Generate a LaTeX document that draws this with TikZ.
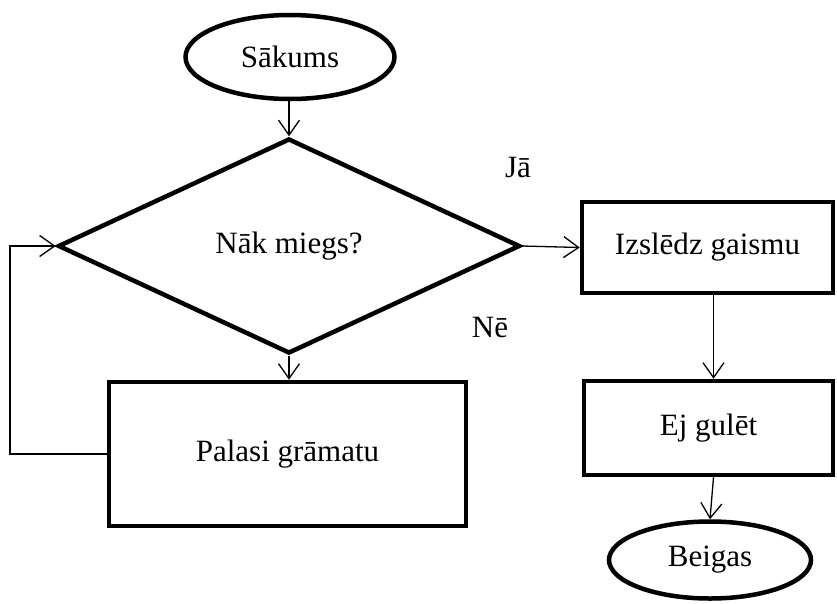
\documentclass[tikz,border=0pt]{standalone}
\usepackage{fontspec}
\setmainfont{Liberation Serif}
\usetikzlibrary{shapes.geometric,arrows.meta}
\begin{document}
\begin{tikzpicture}[x=1pt,y=-1pt,
  every node/.style={font=\fontsize{31}{37}\selectfont},
  shapeline/.style={draw,line width=4.5pt,inner sep=0pt},
  terminal/.style={shapeline,ellipse},
  process/.style={shapeline,rectangle},
  decision/.style={shapeline,diamond,miter limit=20},
  arr/.style={line width=1.3pt,-{Straight Barb[length=15pt,width=21pt,line width=1.3pt]}},
  link/.style={line width=1.3pt}]
\useasboundingbox (0,0) rectangle (837,603);

% blocks
\node[terminal,minimum width=209pt,minimum height=84pt] (start) at (290,57) {Sākums};
\node[decision,minimum width=462pt,minimum height=215pt] (dec) at (289,246) {Nāk miegs?};
\node[process,minimum width=357pt,minimum height=144pt] (read) at (287.5,454) {Palasi grāmatu};
\node[process,minimum width=251pt,minimum height=91pt] (light) at (707.5,247.5) {Izslēdz gaismu};
\node[process,minimum width=249pt,minimum height=94pt] (sleep) at (708.5,428) {Ej gulēt};
\node[terminal,minimum width=202pt,minimum height=77pt] (stop) at (710,560) {Beigas};

% branch labels
\node (yes) at (518,167) {Jā};
\node (no) at (490,327) {Nē};

% connectors
\coordinate (loop) at (10,350);
\draw[arr] (start.south -| dec.north) -- (dec.north);
\draw[arr] (dec.east) -- (light.west);
\draw[arr] (dec.south) -- (dec.south |- read.north);
\draw[arr] (read.west) -| (loop) |- (dec.west);
\draw[arr] ([xshift=6pt]light.south) -- ([xshift=6pt]light.south |- sleep.north);
\draw[arr] ([xshift=5pt]sleep.south) -- (stop.north);
\end{tikzpicture}
\end{document}
